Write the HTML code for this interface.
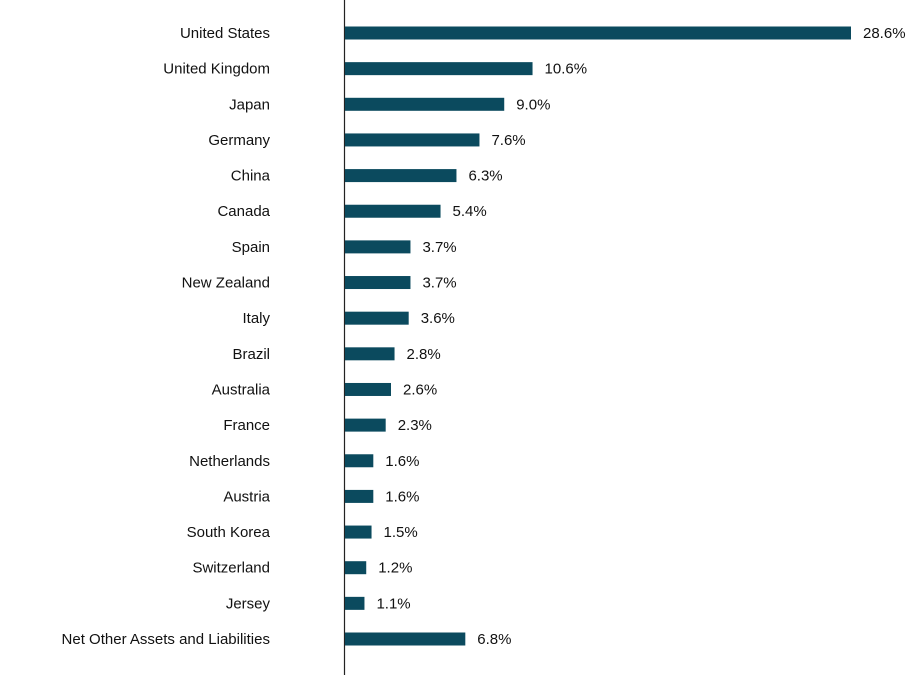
<!DOCTYPE html>
<html><head><meta charset="utf-8"><style>
html,body{margin:0;padding:0;background:#fff;}
svg text{font-family:"Liberation Sans",Arial,sans-serif;font-size:15px;fill:#111;}
</style></head><body>
<svg id="chart" width="910" height="675" xmlns="http://www.w3.org/2000/svg">
<line x1="344.5" y1="0" x2="344.5" y2="675" stroke="#222" stroke-width="1.2"/>
<g id="bars"></g>
</svg>
<script>
const categories = ["United States","United Kingdom","Japan","Germany","China","Canada","Spain","New Zealand","Italy","Brazil","Australia","France","Netherlands","Austria","South Korea","Switzerland","Jersey","Net Other Assets and Liabilities"];
const values = [28.6,10.6,9.0,7.6,6.3,5.4,3.7,3.7,3.6,2.8,2.6,2.3,1.6,1.6,1.5,1.2,1.1,6.8];
const valueLabels = ["28.6%","10.6%","9.0%","7.6%","6.3%","5.4%","3.7%","3.7%","3.6%","2.8%","2.6%","2.3%","1.6%","1.6%","1.5%","1.2%","1.1%","6.8%"];

const x0 = 345, pxPerUnit = 506/28.6;
function xScale(v){ return x0 + v*pxPerUnit; }
const yTop = 33, step = (639-33)/17;
function yScale(i){ return yTop + i*step; }

const g = document.getElementById('bars');
const NS = "http://www.w3.org/2000/svg";
categories.forEach((c,i)=>{
  const cy = yScale(i);
  const lab = document.createElementNS(NS,'text');
  
  
  lab.setAttribute('x', 270);
  lab.setAttribute('y', cy+5);
  lab.setAttribute('text-anchor','end');
  lab.textContent = c;
  g.appendChild(lab);
  const r = document.createElementNS(NS,'rect');
  
  
  r.setAttribute('x', x0);
  r.setAttribute('y', cy-6.5);
  r.setAttribute('width', xScale(values[i])-x0);
  r.setAttribute('height', 13);
  r.setAttribute('fill', '#0b4a5e');
  g.appendChild(r);
  const v = document.createElementNS(NS,'text');
  
  
  v.setAttribute('x', xScale(values[i])+12);
  v.setAttribute('y', cy+5);
  v.textContent = valueLabels[i];
  g.appendChild(v);
});
</script>
</body></html>
